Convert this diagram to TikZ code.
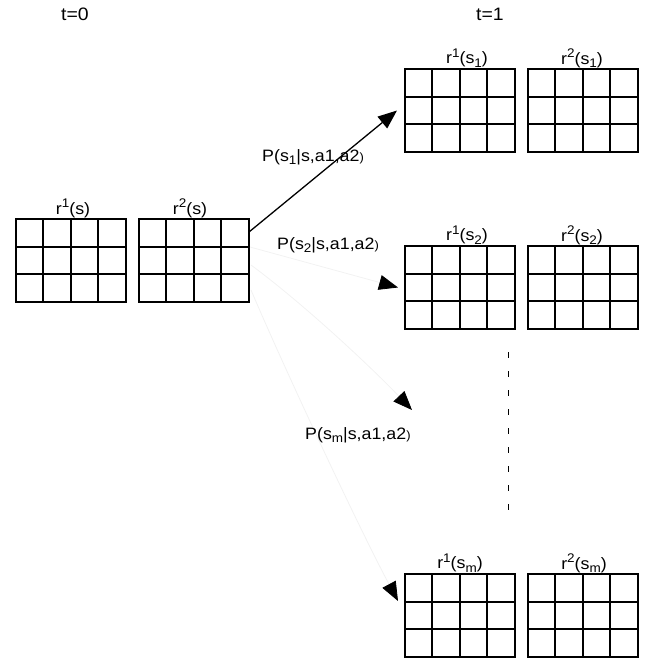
\documentclass[tikz,border=0pt]{standalone}
\usepackage{fontspec}
\setmainfont{Liberation Sans}[FakeStretch=1.08]
\usetikzlibrary{arrows.meta,calc}
\newcommand{\supx}[1]{\raisebox{0.42em}{\fontsize{12.5}{12.5}\selectfont #1}}
\newcommand{\subx}[1]{\raisebox{-0.22em}{\fontsize{12.5}{12.5}\selectfont #1}}
\newcommand{\smp}{{\fontsize{12}{12}\selectfont )}}
\tikzset{
  gridbox/.style={draw, line width=1.4pt, minimum width=110pt, minimum height=83pt, inner sep=0pt, outer sep=0pt},
  gridline/.style={line width=1.4pt},
  lab/.style={inner sep=0pt},
  tlab/.style={inner sep=0pt, font=\fontsize{18}{20}\selectfont},
  solidarrow/.style={line width=1.3pt, -{Triangle[length=19pt,width=15pt]}},
  faintarrow/.style={draw=black!5, line width=0.8pt, -{Triangle[length=19pt,width=15pt,color=black]}},
  dotline/.style={line width=1pt, dash pattern=on 6pt off 13pt}
}
\newcommand{\rgrid}[5]{%
  \node[gridbox, anchor=north west] (#1) at (#2,#3) {};
  \foreach \k in {27,55,82} \draw[gridline] ($(#1.north west)+(\k,0)$) -- ($(#1.south west)+(\k,0)$);
  \foreach \k in {28,55} \draw[gridline] ($(#1.north west)+(0,\k)$) -- ($(#1.north east)+(0,\k)$);
  \node[lab] (#1l) at (#4,#3-11) {#5};
}
\begin{document}
\begin{tikzpicture}[x=1pt,y=-1pt,font=\fontsize{16.5}{19}\selectfont]
\useasboundingbox (0,0) rectangle (657,661);
\node[tlab] (t0) at (75,14) {t=0};
\node[tlab] (t1) at (490,14) {t=1};
\rgrid{A1}{16}{219}{73}{r\supx{1}(s)}
\rgrid{A2}{139}{219}{190}{r\supx{2}(s)}
\rgrid{B1}{405}{69}{467}{r\supx{1}(s\subx{1})}
\rgrid{B2}{528}{69}{582}{r\supx{2}(s\subx{1})}
\rgrid{C1}{405}{246}{467}{r\supx{1}(s\subx{2})}
\rgrid{C2}{528}{246}{582}{r\supx{2}(s\subx{2})}
\rgrid{D1}{405}{574}{460}{r\supx{1}(s\subx{m})}
\rgrid{D2}{528}{574}{584}{r\supx{2}(s\subx{m})}
\coordinate (o1) at (249,232);
\coordinate (o2) at (250,247);
\coordinate (o3) at (251,265);
\coordinate (o4) at (251,290);
\coordinate (mtip) at (412,410);
\coordinate (ltip) at (398,601);
\draw[faintarrow] (o2) -- ($(C1.west)+(-7,0)$);
\draw[faintarrow] (o3) .. controls (305,305) and (372,368) .. (mtip);
\draw[faintarrow] (o4) .. controls (285,370) and (360,530) .. (ltip);
\draw[solidarrow] (o1) -- ($(B1.west)+(-8,0)$);
\node[lab, anchor=west] (p1) at (262,157) {P(s\subx{1}|s,a1,a2\smp};
\node[lab, anchor=west] (p2) at (277,245) {P(s\subx{2}|s,a1,a2\smp};
\node[lab, anchor=west] (p3) at (305,435) {P(s\subx{m}|s,a1,a2\smp};
\coordinate (d1) at (508,352);
\coordinate (d2) at (508,520);
\draw[dotline] (d1) -- (d2);
\end{tikzpicture}
\end{document}
